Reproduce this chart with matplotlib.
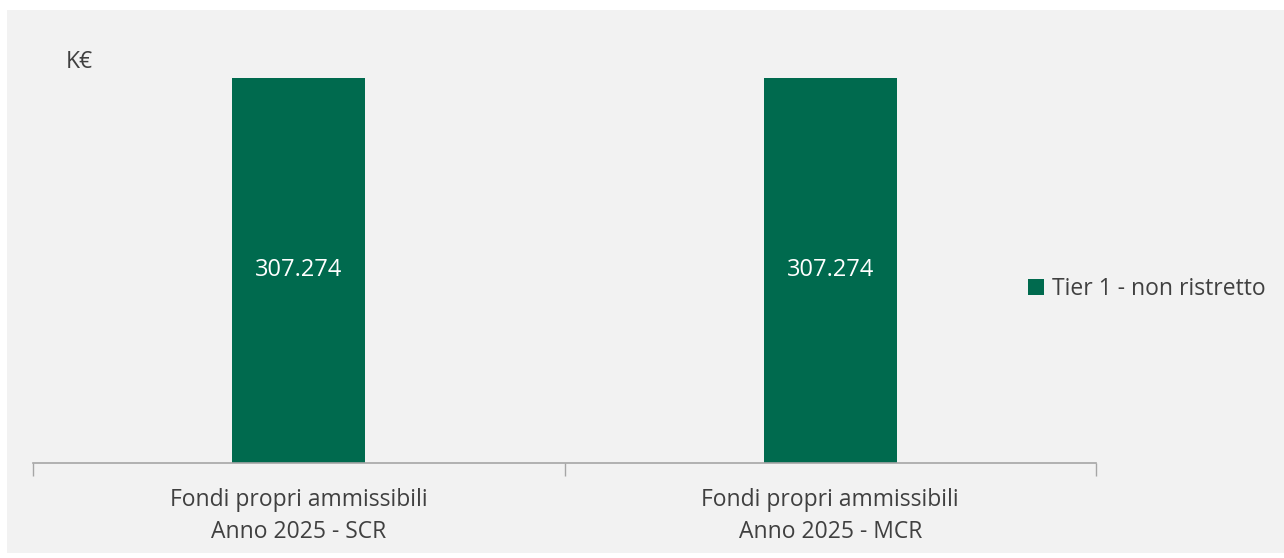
import matplotlib.pyplot as plt
from matplotlib.patches import Rectangle

# dati
categorie = ["Fondi propri ammissibili\nAnno 2025 - SCR", "Fondi propri ammissibili\nAnno 2025 - MCR"]
valori = [307274, 307274]
etichette = ["307.274", "307.274"]
serie = "Tier 1 - non ristretto"

verde = "#006A4E"
grigio = "#F2F2F2"
testo = "#404040"

plt.rcParams['font.family'] = ['Open Sans', 'DejaVu Sans']

fig = plt.figure(figsize=(12.84, 5.58), dpi=100)
fig.patch.set_facecolor("white")
# pannello grigio di sfondo
fig.add_artist(Rectangle((7/1284, 5/558), 1 - 7/1284, 1 - 15/558,
                         transform=fig.transFigure, facecolor=grigio,
                         edgecolor="none", zorder=0))

ax = fig.add_axes([33/1284, 95/558, (1096-33)/1284, (463-40)/558])
ax.patch.set_alpha(0)
x = [0, 1]
bars = ax.bar(x, valori, width=0.25, color=verde, label=serie, zorder=2)
for b, lab in zip(bars, etichette):
    ax.text(b.get_x() + b.get_width()/2, b.get_height()/2, lab,
            ha="center", va="center", color="white", fontsize=17)

ax.set_xlim(-0.5, 1.5)
ax.set_ylim(0, 307274 * 423 / 385)
for s in ["top", "right", "left"]:
    ax.spines[s].set_visible(False)
ax.spines["bottom"].set_color("#A6A6A6")
ax.spines["bottom"].set_linewidth(1.2)
ax.set_yticks([])
ax.set_xticks([-0.5, 0.5, 1.5], minor=False)
ax.set_xticklabels([])
ax.tick_params(axis="x", length=9, color="#A6A6A6", width=1)
ax.set_xticks(x, minor=True)
ax.set_xticklabels(categorie, minor=True, fontsize=16.5, color=testo, linespacing=1.45)
ax.tick_params(axis="x", which="minor", length=0, pad=18)

fig.text(66/1284, 1 - 62/558, "K€", fontsize=16.5, color=testo, va="center")

fig.legend(handles=[bars], labels=[serie], loc="center left",
           bbox_to_anchor=(1028/1284, 1 - 289/558), frameon=False,
           fontsize=16.5, labelcolor=testo, handlelength=0.7, handleheight=0.7,
           handletextpad=0.35, borderpad=0, borderaxespad=0)

fig.savefig("out.png", dpi=100)
